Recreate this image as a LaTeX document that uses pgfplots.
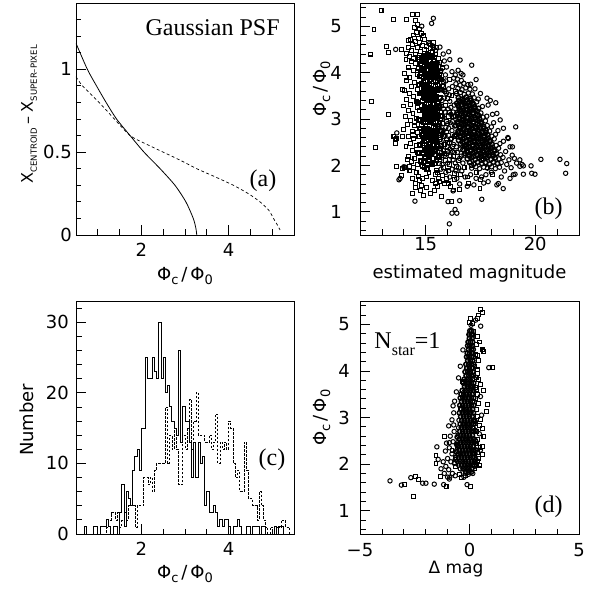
\documentclass[border=0pt]{standalone}
\usepackage{fontspec}
\setmainfont{DejaVu Sans}
\newfontfamily\timesfont{Liberation Serif}
\usepackage{pgfplots}
\usepackage{pgfplotstable}
\pgfplotsset{compat=1.18}

% flux ratio label: Phi_c / Phi_0
\newcommand{\phiratio}{Φ\raisebox{-0.35ex}{\fontsize{13}{13}\selectfont c}\,/\,Φ\raisebox{-0.35ex}{\fontsize{13}{13}\selectfont 0}}
\newcommand{\capsub}[1]{\raisebox{-0.45ex}{\fontsize{8.5}{8.5}\selectfont #1}}

\tikzset{tnote/.style={font=\timesfont\fontsize{24}{24}\selectfont}}

\pgfplotsset{
  paw/.style={
    scale only axis,
    axis line style={line width=0.8pt},
    tick align=inside,
    tick pos=left,
    major tick length=10pt,
    minor tick length=5.5pt,
    tick style={line width=0.8pt, black},
    tick label style={font=\fontsize{18}{18}\selectfont},
    label style={font=\fontsize{18}{21}\selectfont},
    /pgf/number format/assume math mode=true,
    scaled ticks=false,
  },
  ygap/.style={yticklabel style={anchor=east, inner sep=0pt, xshift=-#1}},
  xgap/.style={xticklabel style={anchor=north, inner sep=0pt, yshift=-#1}},
  sq/.style={only marks, mark=square, mark size=1.95pt, mark options={line width=1.05pt, black, fill=none}},
  ci/.style={only marks, mark=o, mark size=2.2pt, mark options={line width=1.0pt, black, fill=none}},
  % heavily overplotted cores: same markers, heavier stroke
  sqcore/.style={only marks, mark=square, mark size=1.95pt, mark options={line width=1.6pt, black, fill=none}},
  cicore/.style={only marks, mark=o, mark size=2.2pt, mark options={line width=1.5pt, black, fill=none}},
}

% histogram of the flux ratio, bins of 0.05 (left edges)
\pgfplotstableread{
x    s  d
0.50 0  0
0.55 0  0
0.60 0  0
0.65 0  0
0.70 1  0
0.75 0  0
0.80 0  0
0.85 0  0
0.90 1  0
0.95 1  0
1.00 0  0
1.05 1  0
1.10 1  0
1.15 1  0
1.20 2  1
1.25 1  2
1.30 0  3
1.35 1  3
1.40 1  2
1.45 0  3
1.50 3  1
1.55 7  2
1.60 1  3
1.65 6  2
1.70 5  4
1.75 4  5
1.80 9  4
1.85 11 1
1.90 12 4
1.95 9  4
2.00 15 4
2.05 15 8
2.10 25 8
2.15 22 7
2.20 22 8
2.25 25 6
2.30 23 9
2.35 22 10
2.40 30 10
2.45 22 10
2.50 25 10
2.55 20 18
2.60 21 10
2.65 18 14
2.70 16 12
2.75 15 15
2.80 14 12
2.85 26 7
2.90 13 7
2.95 18 14
3.00 16 12
3.05 16 15
3.10 13 19
3.15 8  12
3.20 13 16
3.25 8  20
3.30 13 14
3.35 10 14
3.40 11 14
3.45 4  13
3.50 6  13
3.55 3  14
3.60 3  12
3.65 4  13
3.70 3  17
3.75 1  10
3.80 2  13
3.85 1  12
3.90 2  13
3.95 2  12
4.00 1  16
4.05 0  15
4.10 1  10
4.15 1  8
4.20 2  9
4.25 1  6
4.30 0  6
4.35 0  13
4.40 1  9
4.45 1  5
4.50 0  5
4.55 1  4
4.60 1  4
4.65 1  2
4.70 0  6
4.75 1  4
4.80 1  2
4.85 0  1
4.90 0  0
4.95 0  1
5.00 0  1
5.05 1  0
5.10 0  1
5.15 1  1
5.20 1  2
5.25 0  2
5.30 0  1
5.35 0  1
5.40 0  0
5.45 0  0
5.50 0  0
}\histtab

\begin{document}
\begin{tikzpicture}
\useasboundingbox (0,0) rectangle (590pt,595pt);

% ---------------- (a) centroid offset curves ----------------
\begin{axis}[paw, ygap=4pt, xgap=8pt,
  at={(76pt,360pt)}, anchor=south west, width=218pt, height=232pt,
  xmin=0.5, xmax=5.5, ymin=0, ymax=1.4,
  xtick={2,4}, xticklabels={2,4}, minor xtick={0.5,1,1.5,2.5,3,3.5,4.5,5,5.5},
  ytick={0,0.5,1}, yticklabels={0,0.5,1},
  minor ytick={0.1,0.2,0.3,0.4,0.6,0.7,0.8,0.9,1.1,1.2,1.3},
  xlabel={\phiratio},
  xlabel style={at={(axis description cs:0.5,-0.177)}, anchor=center},
  ylabel={\fontsize{16}{18}\selectfont X\capsub{CENTROID}\hspace{0.25em}–\hspace{0.25em}X\capsub{SUPER–PIXEL}},
  ylabel style={at={(axis description cs:-0.215,0.52)}, anchor=center},
]
\addplot[black, line width=0.8pt, smooth, tension=0.45] coordinates {
  (0.50,1.157) (0.76,1.00) (0.97,0.90) (1.19,0.80) (1.43,0.70) (1.74,0.60)
  (2.06,0.50) (2.43,0.40) (2.77,0.30) (3.02,0.20) (3.19,0.10) (3.25,0.04) (3.27,0.00)};
\addplot[black, line width=0.7pt, dash pattern=on 3pt off 2.5pt, smooth, tension=0.45] coordinates {
  (0.50,0.955) (0.65,0.90) (1.03,0.80) (1.38,0.70) (1.74,0.60) (2.10,0.55)
  (2.50,0.50) (2.90,0.45) (3.27,0.40) (3.70,0.35) (4.11,0.30) (4.45,0.25)
  (4.72,0.20) (4.92,0.15) (5.03,0.10) (5.12,0.06) (5.18,0.03)};
\node[tnote, anchor=base west] at (rel axis cs:0.303,0.858) {Gaussian PSF};
\node[tnote] at (rel axis cs:0.858,0.233) {(a)};
\end{axis}

% ---------------- (b) ratio versus estimated magnitude ----------------
\begin{axis}[paw, ygap=18pt, xgap=2pt,
  at={(360pt,360pt)}, anchor=south west, width=219pt, height=232pt,
  xmin=12, xmax=22, ymin=0.5, ymax=5.5,
  xtick={15,20}, xticklabels={15,20}, minor xtick={12,13,14,16,17,18,19,21,22},
  ytick={1,2,3,4,5}, yticklabels={1,2,3,4,5},
  minor ytick={0.6,0.8,1.2,1.4,1.6,1.8,2.2,2.4,2.6,2.8,3.2,3.4,3.6,3.8,4.2,4.4,4.6,4.8,5.2,5.4},
  xlabel={estimated magnitude},
  xlabel style={at={(axis description cs:0.5,-0.164)}, anchor=center},
  ylabel={\phiratio},
  ylabel style={at={(axis description cs:-0.174,0.63)}, anchor=center},
]
% circles, outskirts
\addplot[ci] coordinates {
 (15.35,5.17) (15.27,5.06) (14.82,5.00) (16.57,4.27) (17.10,4.16) (13.63,4.50) (13.68,2.70) (13.83,1.72)
 (14.51,1.23) (16.08,0.74) (16.34,1.05) (16.20,0.97) (16.42,0.97) (17.56,1.27) (19.11,2.83) (20.26,2.13)
 (21.13,2.13) (21.44,2.04) (21.39,1.83) (19.81,1.99) (19.84,1.83) (19.99,1.81) (19.46,1.81) (19.08,1.81)
 (18.54,1.50) (18.32,1.61) (18.77,2.58) (18.96,2.40) (19.46,1.99) (19.30,2.12) (14.00,1.97) (14.08,1.96)
 (13.78,1.69) (16.55,1.24) (16.02,1.22) (16.25,1.45)
 (15.55,4.20) (15.70,4.05) (15.48,3.88) (15.82,3.80) (15.62,3.62) (15.95,3.55) (15.75,3.40) (16.10,3.38)
 (15.58,3.22) (15.88,3.15) (16.15,3.10) (15.68,2.98) (16.00,2.90) (15.80,2.75) (16.20,2.75) (15.60,2.65)
 (15.95,2.55) (15.72,2.40) (16.10,2.35) (15.55,2.30) (15.88,2.22) (16.25,2.12) (15.65,2.12) (16.00,2.05)
 (15.35,3.95) (15.20,3.55) (15.40,3.15) (15.15,2.75) (15.45,2.55) (15.30,2.25) (16.15,3.25) (16.22,2.95)
 (16.05,2.65) (16.28,2.45) (16.12,2.20) (16.35,2.05) (16.50,1.95) (16.70,2.05) (16.62,2.20) (16.45,2.28)
 (16.20,4.02) (16.35,3.95) (16.48,4.05) (16.62,3.98) (16.28,3.88) (15.95,4.12) (16.10,4.28) (15.80,4.40)
 (15.65,4.55) (15.45,4.48) (15.30,4.58) (15.15,4.62) (16.70,3.95) (17.30,3.85) (17.05,3.75) (17.50,3.55)
 (17.80,3.45) (17.25,3.65)
 (15.62,3.90) (15.78,3.62) (15.92,3.82) (16.05,3.65) (16.22,3.70) (15.70,3.28) (15.85,3.45) (16.02,3.22)
 (16.30,3.30) (15.66,2.86) (15.84,3.02) (16.05,2.80) (16.32,2.85) (15.70,2.52) (15.88,2.65) (16.18,2.58)
 (16.35,2.65) (15.80,2.32) (15.98,2.40) (16.22,2.30) (16.40,2.40) (15.75,2.02) (15.92,1.85) (16.20,1.92)
 (16.38,1.88) (16.58,2.35) (16.55,2.15) (16.75,2.22) (16.65,1.88)
 (15.76,3.72) (15.90,3.95) (16.08,3.52) (15.82,3.22) (16.25,3.15) (15.92,2.82) (16.12,2.92) (15.75,2.68)
 (16.08,2.48) (15.95,2.25) (16.30,2.28) (15.70,1.92) (16.10,1.75) (16.42,1.72) (15.85,4.25) (16.05,4.45)
 (17.85,3.30) (18.05,3.10) (18.25,3.12) (18.40,2.98) (18.10,2.92) (18.55,2.80) (18.30,2.75) (18.75,2.60)
 (18.55,2.52) (18.85,2.40) (18.65,2.30) (18.95,2.22) (18.80,2.12) (19.05,2.15) (18.70,2.02) (19.15,2.05)
 (18.90,1.95) (19.30,1.98) (18.60,1.88) (19.00,1.80) (19.40,2.02) (18.45,1.75) (18.85,1.72) (17.95,3.40)
 (18.20,3.35) (18.00,1.85) (17.75,1.80) (17.55,1.75) (17.30,1.72) (17.05,1.80) (16.80,1.75) (16.55,1.60)
 (16.90,1.55) (17.20,1.58) (17.65,1.62) (18.25,1.58) (17.85,1.65)
 (16.45,3.86) (16.63,3.83)
 (16.38,3.76) (16.57,3.73) (16.74,3.77) (16.93,3.74)
 (16.47,3.66) (16.66,3.63) (16.83,3.67) (17.02,3.64)
 (16.40,3.55) (16.59,3.57) (16.76,3.53) (16.95,3.56) (17.13,3.54)
 (17.21,3.46) (17.40,3.43) (17.33,3.37) (17.59,3.27) (17.52,3.13) (17.62,3.04) (17.79,3.06)
 (17.73,2.96) (17.81,2.86) (18.00,2.83) (17.92,2.74) (18.02,2.63) (18.19,2.67) (18.13,2.57)
 (18.22,2.43) (18.39,2.47) (18.33,2.37) (18.42,2.23) (18.34,2.14) (18.53,2.17) (18.45,2.06)
 (17.10,1.94) (17.29,1.97) (17.46,1.93) (17.65,1.96) (17.82,1.94) (18.01,1.97) (18.18,1.93) (18.37,1.96)
};
% circles, dense cluster
\addplot[cicore] coordinates {
 (16.49,3.46) (16.68,3.43) (16.85,3.47) (17.04,3.44)
 (16.42,3.34) (16.61,3.37) (16.78,3.33) (16.97,3.36) (17.14,3.34)
 (16.51,3.26) (16.70,3.23) (16.87,3.27) (17.06,3.24) (17.23,3.26) (17.42,3.23)
 (16.44,3.14) (16.63,3.17) (16.80,3.13) (16.99,3.16) (17.16,3.14) (17.35,3.17)
 (16.35,3.06) (16.54,3.03) (16.71,3.07) (16.90,3.04) (17.07,3.06) (17.26,3.03) (17.43,3.07)
 (16.46,2.94) (16.65,2.97) (16.82,2.93) (17.01,2.96) (17.18,2.94) (17.37,2.97) (17.54,2.93)
 (16.37,2.86) (16.56,2.83) (16.73,2.87) (16.92,2.84) (17.09,2.86) (17.28,2.83) (17.45,2.87) (17.64,2.84)
 (16.48,2.74) (16.67,2.77) (16.84,2.73) (17.03,2.76) (17.20,2.74) (17.39,2.77) (17.56,2.73) (17.75,2.76)
 (16.39,2.66) (16.58,2.63) (16.75,2.67) (16.94,2.64) (17.11,2.66) (17.30,2.63) (17.47,2.67) (17.66,2.64) (17.83,2.66)
 (16.50,2.54) (16.69,2.57) (16.86,2.53) (17.05,2.56) (17.22,2.54) (17.41,2.57) (17.58,2.53) (17.77,2.56) (17.94,2.54)
 (16.59,2.46) (16.78,2.43) (16.95,2.47) (17.14,2.44) (17.31,2.46) (17.50,2.43) (17.67,2.47) (17.86,2.44) (18.03,2.46)
 (16.70,2.34) (16.89,2.37) (17.06,2.33) (17.25,2.36) (17.42,2.34) (17.61,2.37) (17.78,2.33) (17.97,2.36) (18.14,2.34)
 (16.79,2.26) (16.98,2.23) (17.15,2.27) (17.34,2.24) (17.51,2.26) (17.70,2.23) (17.87,2.27) (18.06,2.24) (18.23,2.26)
 (16.90,2.14) (17.09,2.17) (17.26,2.13) (17.45,2.16) (17.62,2.14) (17.81,2.17) (17.98,2.13) (18.17,2.16)
 (17.01,2.06) (17.20,2.03) (17.37,2.07) (17.56,2.04) (17.73,2.06) (17.92,2.03) (18.09,2.07) (18.28,2.04)
 (16.52,3.40) (16.70,3.39) (16.88,3.41) (17.06,3.40)
 (16.47,3.30) (16.65,3.31) (16.83,3.29) (17.01,3.30) (17.19,3.31)
 (16.54,3.20) (16.72,3.19) (16.90,3.21) (17.08,3.20) (17.26,3.19)
 (16.45,3.10) (16.63,3.11) (16.81,3.09) (16.99,3.10) (17.17,3.11) (17.35,3.09)
 (16.55,3.00) (16.73,2.99) (16.91,3.01) (17.09,3.00) (17.27,2.99) (17.45,3.01)
 (16.47,2.90) (16.64,2.91) (16.82,2.89) (17.00,2.90) (17.18,2.91) (17.36,2.89) (17.54,2.90)
 (16.57,2.80) (16.75,2.79) (16.93,2.81) (17.11,2.80) (17.29,2.79) (17.47,2.81) (17.65,2.80)
 (16.49,2.70) (16.67,2.71) (16.85,2.69) (17.03,2.70) (17.21,2.71) (17.39,2.69) (17.57,2.70) (17.75,2.71)
 (16.59,2.60) (16.77,2.59) (16.95,2.61) (17.13,2.60) (17.31,2.59) (17.49,2.61) (17.67,2.60) (17.85,2.59)
 (16.68,2.50) (16.86,2.51) (17.04,2.49) (17.22,2.50) (17.40,2.51) (17.58,2.49) (17.76,2.50) (17.94,2.51)
 (16.79,2.40) (16.97,2.39) (17.15,2.41) (17.33,2.40) (17.51,2.39) (17.69,2.41) (17.87,2.40) (18.05,2.39)
 (16.88,2.30) (17.06,2.31) (17.24,2.29) (17.42,2.30) (17.60,2.31) (17.78,2.29) (17.96,2.30) (18.14,2.31)
 (17.00,2.20) (17.18,2.19) (17.36,2.21) (17.54,2.20) (17.72,2.19) (17.90,2.21) (18.08,2.20)
};
% squares, outskirts
\addplot[sq] coordinates {
 (12.96,5.33) (12.64,4.93) (12.49,4.40) (13.22,4.57) (13.29,4.43) (13.52,5.15) (14.13,5.15) (14.39,5.26)
 (14.62,5.26) (12.53,3.37) (13.29,3.10) (12.72,2.38) (13.90,4.49) (13.93,3.64) (13.60,2.55) (13.68,1.97)
 (13.90,1.79) (14.39,1.40) (14.89,1.36) (15.20,1.40) (15.73,1.33) (16.19,1.22) (16.26,1.47) (17.48,1.50)
 (13.62,2.47) (13.92,1.93) (14.05,1.95) (15.05,1.52) (15.45,1.62) (15.52,1.55) (15.60,1.72) (16.02,1.60)
 (16.30,1.70) (16.55,1.48)
 (14.55,5.12) (14.62,5.03) (14.47,4.98) (14.71,4.94) (14.58,4.87) (14.79,4.85) (14.44,4.81) (14.88,4.79)
 (14.66,4.74) (14.31,4.72) (14.96,4.71) (14.52,4.67) (14.73,4.64) (15.11,4.66) (14.39,4.61) (14.86,4.59)
 (15.03,4.57) (14.22,4.55) (14.63,4.54) (15.21,4.52) (14.95,4.49) (14.34,4.47) (14.77,4.45) (15.29,4.45)
 (14.12,4.42) (14.55,4.40) (15.06,4.41) (14.92,4.36) (15.24,4.37) (14.68,4.32) (14.25,4.35) (14.45,4.30)
 (15.45,4.40) (15.35,4.55) (14.20,4.70)
 (14.10,4.28) (14.35,4.23) (14.55,4.19) (14.20,4.12) (14.44,4.05) (14.05,3.98) (14.63,3.96) (14.28,3.90)
 (14.14,3.82) (14.50,3.79) (14.36,3.70) (14.02,3.62) (14.61,3.63) (14.25,3.55) (14.46,3.48) (14.12,3.42)
 (14.56,3.37) (14.31,3.32) (13.98,3.28) (14.63,3.24) (14.20,3.18) (14.42,3.12) (14.08,3.05) (14.59,3.02)
 (14.30,2.96) (14.15,2.88) (14.50,2.85) (14.00,2.78) (14.38,2.74) (14.64,2.70) (14.21,2.62) (14.46,2.57)
 (13.94,2.63) (14.31,2.48) (14.56,2.43) (14.10,2.40) (14.40,2.33) (14.63,2.28) (14.22,2.20) (14.51,2.15)
 (14.35,2.08) (14.61,2.02) (14.15,2.12) (14.45,1.95) (14.28,1.88) (14.56,1.84) (14.66,1.77) (14.40,1.72)
 (14.71,1.67) (14.55,1.61) (14.80,1.57) (14.25,1.98) (14.55,1.53) (14.75,1.45) (15.40,1.46) (13.55,2.62)
 (13.68,2.58)
 (15.65,3.95) (15.80,3.70) (15.62,3.45) (15.90,3.30) (15.70,3.15) (16.05,3.05) (15.78,2.90) (15.95,2.72)
 (15.68,2.60) (16.15,2.55) (15.85,2.45) (16.00,2.30) (15.72,2.22) (16.25,2.20) (15.90,2.10) (16.10,2.02)
 (15.62,2.05) (16.40,1.98) (15.80,1.95) (16.05,1.88) (15.55,1.85) (16.30,1.82) (15.75,1.78) (15.95,1.72)
 (16.60,1.80) (16.75,1.95) (16.50,2.10) (15.65,1.65) (15.85,1.60) (16.15,1.55) (15.50,1.90) (15.40,2.05)
 (16.90,1.75) (17.10,2.00) (17.30,1.85) (17.55,2.10) (16.85,2.40) (17.20,2.60) (16.70,3.00) (17.00,3.20)
 (16.35,3.60) (16.10,3.85) (15.75,4.10) (15.60,4.30) (15.50,4.55) (15.35,4.65) (15.05,1.75) (14.95,1.95)
 (15.15,1.85) (15.30,1.68) (14.85,1.72) (15.25,2.05) (14.88,2.08) (15.10,2.05) (15.45,1.80) (17.50,1.70)
 (17.80,1.95) (18.05,1.80) (16.95,1.62)
 (15.70,3.85) (15.88,3.60) (16.00,3.45) (16.20,3.50) (15.78,3.05) (15.95,2.95) (16.10,3.15) (16.28,3.05)
 (15.82,2.62) (16.00,2.50) (16.30,2.62) (15.72,2.42) (16.08,2.12) (16.22,2.40) (15.85,2.25) (16.45,2.20)
};
% squares, dense band
\addplot[sqcore] coordinates {
 (14.82,4.31) (15.01,4.27) (15.19,4.34) (15.37,4.26)
 (14.77,4.19) (14.96,4.23) (15.11,4.16) (15.31,4.20) (15.47,4.14)
 (14.87,4.08) (15.05,4.13) (15.23,4.05) (15.39,4.11)
 (14.79,3.99) (14.95,4.02) (15.15,3.96) (15.33,4.02) (15.51,3.94)
 (14.89,3.87) (15.07,3.92) (15.25,3.85) (15.43,3.91)
 (14.81,3.77) (14.99,3.82) (15.17,3.75) (15.35,3.81) (15.54,3.73)
 (14.91,3.69) (15.09,3.70) (15.27,3.65) (15.45,3.71)
 (14.83,3.57) (15.01,3.62) (15.19,3.55) (15.37,3.59)
 (14.93,3.47) (15.11,3.52) (15.29,3.45) (15.47,3.49)
 (14.85,3.39) (15.03,3.40) (15.21,3.35) (15.39,3.41) (15.57,3.34)
 (14.95,3.27) (15.13,3.32) (15.31,3.25) (15.49,3.29)
 (14.87,3.19) (15.05,3.20) (15.23,3.15) (15.41,3.21)
 (14.97,3.07) (15.15,3.12) (15.33,3.05) (15.51,3.09)
 (14.89,2.99) (15.07,3.00) (15.25,2.95) (15.43,3.01)
 (14.81,2.87) (14.99,2.92) (15.17,2.85) (15.35,2.91) (15.56,2.84)
 (14.91,2.79) (15.09,2.80) (15.27,2.75) (15.45,2.81)
 (14.83,2.67) (15.01,2.72) (15.19,2.65) (15.37,2.71)
 (14.93,2.59) (15.11,2.60) (15.29,2.55) (15.47,2.61)
 (14.85,2.47) (15.03,2.52) (15.21,2.45) (15.39,2.51)
 (14.95,2.39) (15.13,2.40) (15.31,2.35) (15.51,2.41)
 (14.87,2.27) (15.05,2.32) (15.23,2.25) (15.43,2.31)
 (14.97,2.19) (15.15,2.20) (15.35,2.15)
 (14.91,4.36) (15.10,4.38) (15.28,4.35)
 (14.86,4.25) (15.04,4.24) (15.21,4.26) (15.40,4.25)
 (14.95,4.13) (15.14,4.14) (15.31,4.12) (15.49,4.13)
 (14.88,4.04) (15.05,4.05) (15.24,4.03) (15.42,4.04)
 (14.98,3.93) (15.16,3.94) (15.34,3.92) (15.52,3.93)
 (14.90,3.82) (15.08,3.83) (15.26,3.81) (15.45,3.82)
 (15.00,3.73) (15.18,3.74) (15.36,3.72)
 (14.92,3.63) (15.10,3.64) (15.28,3.62) (15.46,3.63)
 (15.02,3.52) (15.20,3.53) (15.38,3.51)
 (14.94,3.44) (15.12,3.45) (15.30,3.43) (15.48,3.44)
 (15.04,3.33) (15.22,3.34) (15.40,3.32)
 (14.96,3.24) (15.14,3.25) (15.32,3.23) (15.50,3.24)
 (15.06,3.13) (15.24,3.14) (15.42,3.12)
 (14.98,3.04) (15.16,3.05) (15.34,3.03) (15.52,3.04)
 (14.90,2.93) (15.08,2.94) (15.26,2.92) (15.45,2.93)
 (15.00,2.84) (15.18,2.85) (15.36,2.83)
 (14.92,2.73) (15.10,2.74) (15.28,2.72) (15.46,2.73)
 (15.02,2.64) (15.20,2.65) (15.38,2.63)
 (14.94,2.53) (15.12,2.54) (15.30,2.52) (15.48,2.53)
 (15.04,2.44) (15.22,2.45) (15.40,2.43)
 (14.96,2.33) (15.14,2.34) (15.32,2.32)
 (15.06,2.24) (15.24,2.25) (15.44,2.23)
 (14.70,4.28) (14.66,4.10) (14.72,3.92) (14.68,3.74) (14.73,3.55) (14.65,3.36) (14.71,3.18) (14.67,2.98)
 (14.74,2.80) (14.69,2.62) (14.75,2.44) (14.70,2.26) (14.78,2.10)
 (15.64,4.22) (15.68,4.02) (15.62,3.86) (15.70,3.64) (15.65,3.46) (15.61,3.26) (15.69,3.06) (15.64,2.92)
 (15.71,2.74) (15.63,2.56) (15.66,2.36) (15.60,2.18)
 (14.95,2.08) (15.15,2.10) (15.32,2.02) (15.50,2.12) (14.85,1.98) (15.05,1.92)
};
\node[tnote] at (rel axis cs:0.861,0.114) {(b)};
\end{axis}

% ---------------- (c) histograms ----------------
\begin{axis}[paw, ygap=7pt, xgap=8pt,
  at={(76pt,61pt)}, anchor=south west, width=218pt, height=233pt,
  xmin=0.5, xmax=5.5, ymin=0, ymax=33,
  xtick={2,4}, xticklabels={2,4}, minor xtick={0.5,1,1.5,2.5,3,3.5,4.5,5,5.5},
  ytick={0,10,20,30}, yticklabels={0,10,20,30},
  minor ytick={2,4,6,8,12,14,16,18,22,24,26,28,32},
  xlabel={\phiratio},
  xlabel style={at={(axis description cs:0.5,-0.172)}, anchor=center},
  ylabel={Number},
  ylabel style={at={(axis description cs:-0.225,0.49)}, anchor=center},
]
\addplot[black, line width=0.7pt, dash pattern=on 2.5pt off 1.5pt, const plot mark left] table[x=x, y=d] {\histtab};
\addplot[black, line width=0.9pt, const plot mark left] table[x=x, y=s] {\histtab};
\node[tnote] at (rel axis cs:0.899,0.318) {(c)};
\end{axis}

% ---------------- (d) ratio versus magnitude difference ----------------
\begin{axis}[paw, ygap=10pt, xgap=9pt,
  at={(360pt,61pt)}, anchor=south west, width=219pt, height=233pt,
  xmin=-5, xmax=5, ymin=0.5, ymax=5.5,
  xtick={-5,0,5}, xticklabels={−5,0,5}, minor xtick={-4,-3,-2,-1,1,2,3,4},
  ytick={1,2,3,4,5}, yticklabels={1,2,3,4,5},
  minor ytick={0.6,0.8,1.2,1.4,1.6,1.8,2.2,2.4,2.6,2.8,3.2,3.4,3.6,3.8,4.2,4.4,4.6,4.8,5.2,5.4},
  xlabel={\fontsize{17}{20}\selectfont Δ mag},
  xlabel style={at={(axis description cs:0.438,-0.152)}, anchor=center},
  ylabel={\phiratio},
  ylabel style={at={(axis description cs:-0.174,0.50)}, anchor=center},
]
% circles, outskirts
\addplot[ci] coordinates {
 (-3.63,1.64) (-3.11,1.55) (-2.68,1.71) (-2.14,1.59) (-1.99,1.59) (-1.61,1.57) (-1.18,1.56) (-1.00,1.72)
 (-0.92,1.68) (-1.43,2.10) (-1.49,2.37) (-0.92,2.46) (-0.72,2.84) (-0.11,1.56) (-0.72,3.10) (-0.80,2.95)
 (-0.95,2.82) (-0.70,2.70) (-0.88,2.60) (-1.05,2.45) (-0.75,2.48) (-0.92,2.35) (-1.10,2.28) (-0.80,2.22)
 (-1.00,2.12) (-1.20,2.05) (-0.85,2.05) (-1.08,1.95) (-1.30,1.90) (-0.95,1.88) (-1.15,1.80) (-0.78,1.80)
 (-0.65,1.75) (-0.90,1.72) (-0.68,3.35) (-0.60,3.55) (-0.75,3.25) (-0.50,3.85) (-0.42,4.10) (-0.30,4.45)
 (0.28,5.09) (0.07,4.98) (0.51,4.96) (0.88,4.07) (0.50,3.45) (0.55,3.05) (0.45,2.65) (0.50,2.30)
 (0.15,1.80) (-0.05,1.78) (-0.25,1.72)
 (-0.58,2.30) (-0.62,2.14) (-0.56,2.06) (-0.55,2.46) (-0.52,2.62) (-0.50,2.78) (-0.48,2.94)
 (-0.30,1.83) (-0.42,1.90) (-0.50,1.98)
};
% circles, dense core
\addplot[cicore] coordinates {
 (0.02,4.86) (0.10,4.86)
 (-0.02,4.78) (0.08,4.78) (0.14,4.78)
 (0.00,4.70) (0.12,4.70)
 (-0.06,4.62) (0.04,4.62) (0.14,4.62)
 (-0.08,4.54) (0.02,4.54) (0.12,4.54)
 (-0.04,4.46) (0.08,4.46) (0.17,4.46)
 (-0.10,4.38) (0.01,4.38) (0.12,4.38)
 (-0.13,4.30) (-0.02,4.30) (0.09,4.30) (0.18,4.30)
 (-0.08,4.22) (0.04,4.22) (0.15,4.22)
 (-0.16,4.14) (-0.04,4.14) (0.08,4.14) (0.19,4.14)
 (-0.12,4.06) (0.00,4.06) (0.12,4.06)
 (-0.20,3.98) (-0.08,3.98) (0.04,3.98) (0.16,3.98)
 (-0.15,3.90) (-0.03,3.90) (0.09,3.90) (0.19,3.90)
 (-0.24,3.82) (-0.11,3.82) (0.02,3.82) (0.14,3.82)
 (-0.28,3.74) (-0.16,3.74) (-0.04,3.74) (0.08,3.74) (0.19,3.74)
 (-0.22,3.66) (-0.10,3.66) (0.03,3.66) (0.15,3.66)
 (-0.33,3.58) (-0.20,3.58) (-0.07,3.58) (0.06,3.58) (0.18,3.58)
 (-0.38,3.50) (-0.26,3.50) (-0.13,3.50) (0.00,3.50) (0.12,3.50)
 (-0.42,3.42) (-0.30,3.42) (-0.18,3.42) (-0.05,3.42) (0.08,3.42) (0.19,3.42)
 (-0.36,3.34) (-0.23,3.34) (-0.10,3.34) (0.03,3.34) (0.15,3.34)
 (-0.44,3.26) (-0.31,3.26) (-0.18,3.26) (-0.05,3.26) (0.08,3.26) (0.19,3.26)
 (-0.38,3.18) (-0.25,3.18) (-0.12,3.18) (0.01,3.18) (0.14,3.18)
 (-0.46,3.10) (-0.33,3.10) (-0.20,3.10) (-0.07,3.10) (0.06,3.10) (0.18,3.10)
 (-0.40,3.02) (-0.27,3.02) (-0.14,3.02) (-0.01,3.02) (0.12,3.02)
 (-0.35,2.94) (-0.22,2.94) (-0.09,2.94) (0.04,2.94) (0.17,2.94)
 (-0.42,2.86) (-0.29,2.86) (-0.16,2.86) (-0.03,2.86) (0.10,2.86) (0.20,2.86)
 (-0.37,2.78) (-0.24,2.78) (-0.11,2.78) (0.02,2.78) (0.15,2.78)
 (-0.44,2.70) (-0.31,2.70) (-0.18,2.70) (-0.05,2.70) (0.08,2.70) (0.19,2.70)
 (-0.39,2.62) (-0.26,2.62) (-0.13,2.62) (0.00,2.62) (0.13,2.62)
 (-0.46,2.54) (-0.33,2.54) (-0.20,2.54) (-0.07,2.54) (0.06,2.54) (0.19,2.54)
 (-0.42,2.46) (-0.29,2.46) (-0.16,2.46) (-0.03,2.46) (0.10,2.46) (0.21,2.46)
 (-0.49,2.38) (-0.36,2.38) (-0.23,2.38) (-0.10,2.38) (0.03,2.38) (0.16,2.38)
 (-0.45,2.30) (-0.32,2.30) (-0.19,2.30) (-0.06,2.30) (0.07,2.30) (0.20,2.30)
 (-0.52,2.22) (-0.39,2.22) (-0.26,2.22) (-0.13,2.22) (0.00,2.22) (0.13,2.22) (0.24,2.22)
 (-0.49,2.14) (-0.36,2.14) (-0.23,2.14) (-0.10,2.14) (0.03,2.14) (0.16,2.14)
 (-0.43,2.06) (-0.30,2.06) (-0.17,2.06) (-0.04,2.06) (0.09,2.06) (0.22,2.06)
 (-0.37,1.98) (-0.24,1.98) (-0.11,1.98) (0.02,1.98) (0.15,1.98)
 (-0.29,1.90) (-0.16,1.90) (-0.03,1.90) (0.10,1.90)
 (-0.17,1.83) (-0.04,1.83) (0.08,1.83)
 (-0.64,2.10) (-0.60,2.26) (-0.58,2.42) (-0.56,2.58) (0.28,2.10) (0.30,2.30) (0.27,2.50)
 (0.26,2.72) (0.25,2.92) (-0.68,2.02) (0.24,1.96)
};
% squares
\addplot[sq] coordinates {
 (0.51,5.31) (0.43,5.20) (0.58,5.26) (0.35,5.12) (0.05,5.12) (0.00,5.03) (0.12,5.02) (0.35,4.73)
 (0.58,4.45) (0.66,4.42) (0.31,4.56) (0.35,4.33) (0.43,4.22) (1.07,4.07) (0.35,4.02) (0.43,3.81)
 (0.31,3.60) (0.81,3.27) (0.77,3.13) (0.51,2.95) (0.58,2.77) (0.66,2.59) (0.58,2.38) (0.58,2.20)
 (0.35,2.05) (0.28,4.35) (0.25,4.10) (0.38,3.95) (0.30,3.85) (0.27,3.65) (0.35,3.50) (0.29,3.40)
 (0.42,3.30) (0.31,3.18) (0.36,3.02) (0.28,2.88) (0.45,2.82) (0.33,2.70) (0.38,2.52) (0.30,2.45)
 (0.48,2.36) (0.35,2.25) (0.40,2.12) (0.32,2.00) (0.46,1.98) (0.25,1.90) (0.05,1.52) (0.62,3.58)
 (0.50,3.70) (0.20,4.85) (0.45,4.62) (-0.30,3.77) (-0.42,3.20) (-0.55,2.40) (-0.62,2.15)
 (-2.96,1.57) (-2.48,1.74) (-2.34,1.67) (-2.57,1.31) (-1.07,1.52) (-1.33,1.74) (-1.53,2.19) (-1.53,2.01)
 (-1.15,2.60) (-0.45,1.77) (-0.62,1.95) (-0.80,2.30) (-0.38,1.72) (-0.20,1.75)
};
\node[tnote, anchor=base west] at (rel axis cs:0.05,0.798) {N\raisebox{-7pt}{\fontsize{16}{16}\selectfont star}=1};
\node[tnote] at (rel axis cs:0.861,0.118) {(d)};
\end{axis}
\end{tikzpicture}
\end{document}
